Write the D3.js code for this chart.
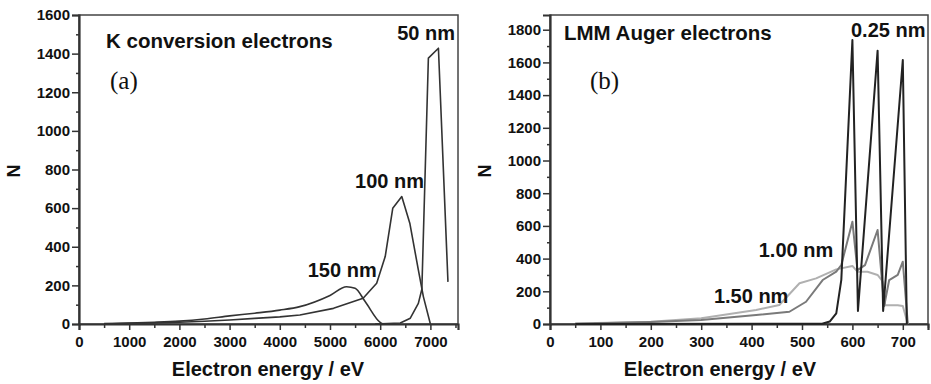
<!DOCTYPE html>
<html>
<head>
<meta charset="utf-8">
<script src="https://cdn.jsdelivr.net/npm/d3@7"></script>
<style>
  body { margin: 0; background: #fff; }
  text { font-family: "Liberation Sans", Arial, sans-serif; font-weight: bold; fill: #111; }
</style>
</head>
<body>
<div id="chart"></div>
<script>
// panel (a): K conversion electrons, [energy eV, N]
const k150nm = [[500,2],[1000,5],[1500,9],[2000,15],[2500,26],[3000,42],[3500,56],[4000,72],[4400,90],[5000,148],[5330,193],[5500,185],[5700,116],[6000,8],[6050,0]];
const k100nm = [[500,1],[1000,3],[1500,5],[2000,9],[2500,14],[3000,21],[3500,29],[4000,37],[4400,47],[5070,81],[5660,133],[5930,211],[6100,349],[6250,599],[6430,660],[6590,522],[6760,280],[6860,142],[7000,0]];
const k50nm = [[5900,0],[6400,5],[6600,30],[6760,107],[6830,180],[6960,1377],[7160,1428],[7350,218]];
const kLabels = [["50 nm",7490,1471],["100 nm",6873,705],["150 nm",5930,245]];

// panel (b): LMM Auger electrons
const a025nm = [[50,0],[540,2],[555,15],[568,65],[578,270],[600,1737],[611,80],[650,1672],[661,80],[700,1615],[708,0]];
const a100nm = [[50,2],[200,12],[300,25],[409,55],[475,75],[508,136],[541,269],[568,320],[578,361],[600,626],[610,330],[625,360],[650,575],[663,110],[673,269],[690,300],[700,381],[710,0]];
const a150nm = [[50,3],[200,14],[300,35],[409,86],[455,116],[495,249],[528,279],[568,334],[600,355],[610,320],[630,320],[650,300],[660,260],[665,115],[690,115],[700,110],[710,0]];
const aLabels = [["0.25 nm",745,1757],["1.00 nm",562,412],["1.50 nm",473,127]];

const panels = [
  { x0: 79, x1: 458, xMax: 7550, xTicks: d3.range(0, 7001, 1000), xMinor: d3.range(500, 7501, 1000),
    yMax: 1600, yTicks: d3.range(0, 1601, 200), yMinor: d3.range(100, 1600, 200),
    title: "K conversion electrons", titleX: 106, titleY: 48, tag: "(a)", tagX: 110, xTitleX: 268,
    series: [{ d: k150nm, c: "#333", w: 1.6, smooth: true }, { d: k100nm, c: "#333", w: 1.6 }, { d: k50nm, c: "#333", w: 1.6 }],
    labels: kLabels },
  { x0: 550, x1: 928, xMax: 750, xTicks: d3.range(0, 701, 100), xMinor: d3.range(50, 751, 100),
    yMax: 1890, yTicks: d3.range(0, 1801, 200), yMinor: d3.range(100, 1890, 200),
    title: "LMM Auger electrons", titleX: 564, titleY: 40, tag: "(b)", tagX: 590, xTitleX: 720,
    series: [{ d: a150nm, c: "#b0b0b0", w: 2 }, { d: a100nm, c: "#7a7a7a", w: 2 }, { d: a025nm, c: "#222", w: 2 }],
    labels: aLabels }
];

const W = 931, H = 384, plotTop = 15, plotBottom = 324;

const svg = d3.select("#chart").append("svg")
  .attr("width", W).attr("height", H);

panels.forEach(p => {
  const x = d3.scaleLinear().domain([0, p.xMax]).range([p.x0, p.x1]);
  const y = d3.scaleLinear().domain([0, p.yMax]).range([plotBottom, plotTop]);
  const g = svg.append("g");

  // frame
  g.append("rect")
    .attr("x", p.x0).attr("y", plotTop)
    .attr("width", p.x1 - p.x0).attr("height", plotBottom - plotTop)
    .attr("fill", "none").attr("stroke", "#444").attr("stroke-width", 1.5);

  // minor ticks
  g.append("g").attr("transform", `translate(0,${plotBottom})`)
    .call(d3.axisBottom(x).tickValues(p.xMinor).tickSize(4).tickFormat(""))
    .call(a => a.select(".domain").remove());
  g.append("g").attr("transform", `translate(${p.x0},0)`)
    .call(d3.axisLeft(y).tickValues(p.yMinor).tickSize(3).tickFormat(""))
    .call(a => a.select(".domain").remove());

  // major ticks
  const xa = g.append("g").attr("transform", `translate(0,${plotBottom})`)
    .call(d3.axisBottom(x).tickValues(p.xTicks).tickSize(6).tickPadding(6).tickFormat(d3.format("d")));
  const ya = g.append("g").attr("transform", `translate(${p.x0},0)`)
    .call(d3.axisLeft(y).tickValues(p.yTicks).tickSize(7).tickPadding(2).tickFormat(d3.format("d")));
  [xa, ya].forEach(a => {
    a.selectAll("text")
      .style("font-family", "'Liberation Sans', Arial, sans-serif")
      .style("font-weight", "bold")
      .style("font-size", "15px").attr("fill", "#111");
    a.select(".domain").attr("stroke", "#333").attr("stroke-width", 2.2);
  });
  g.selectAll(".tick line").attr("stroke", "#333").attr("stroke-width", 1.5);

  // lines
  p.series.forEach(s => {
    const line = d3.line().x(d => x(d[0])).y(d => y(d[1]))
      .curve(s.smooth ? d3.curveMonotoneX : d3.curveLinear);
    g.append("path").datum(s.d)
      .attr("d", line)
      .attr("fill", "none")
      .attr("stroke", s.c)
      .attr("stroke-width", s.w)
      .attr("stroke-linejoin", "round");
  });

  // annotations
  p.labels.forEach(l => {
    g.append("text").attr("x", x(l[1])).attr("y", y(l[2]))
      .attr("text-anchor", "end")
      .style("font-size", "20px").text(l[0]);
  });

  g.append("text").attr("x", p.titleX).attr("y", p.titleY)
    .style("font-size", "20.5px").text(p.title);
  g.append("text").attr("x", p.tagX).attr("y", 89)
    .style("font-family", "'Liberation Serif', 'Times New Roman', serif")
    .style("font-weight", "normal")
    .style("font-size", "25px").text(p.tag);

  // axis titles
  g.append("text").attr("x", p.xTitleX).attr("y", 376)
    .attr("text-anchor", "middle")
    .style("font-size", "20px").text("Electron energy / eV");
  g.append("text")
    .attr("transform", `translate(${p.x0 - 59},171) rotate(-90)`)
    .attr("text-anchor", "middle")
    .style("font-size", "18px").text("N");
});
</script>
</body>
</html>
